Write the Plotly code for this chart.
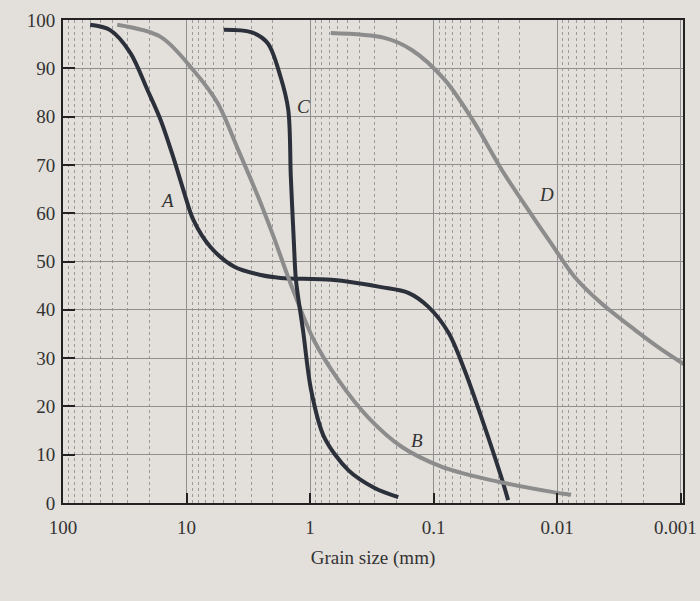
import math
import plotly.graph_objects as go

# Curve A
a_x = [60.3, 41.5, 28.5, 20.7, 16.2, 12.8, 10.6, 8.8, 6.4, 4.1, 2.5, 1.73, 0.67, 0.265, 0.16, 0.11, 0.0754, 0.056, 0.041, 0.0283, 0.0249]
a_y = [99.0, 97.9, 93.2, 85.5, 79.3, 71.6, 64.8, 58.6, 53.0, 48.9, 47.2, 46.6, 46.2, 44.7, 43.5, 40.6, 35.2, 27.5, 17.8, 5.4, 0.6]
# Curve B
b_x = [36.4, 16.2, 8.8, 5.6, 3.8, 2.63, 1.97, 1.44, 0.93, 0.59, 0.34, 0.18, 0.0855, 0.041, 0.011, 0.0077]
b_y = [99.0, 96.5, 89.6, 82.8, 73.0, 63.4, 55.1, 45.5, 33.7, 25.5, 17.8, 11.6, 7.5, 5.2, 2.3, 1.7]
# Curve C
c_x = [5.0, 3.0, 2.2, 1.73, 1.5, 1.43, 1.35, 1.3, 1.14, 0.98, 0.77, 0.49, 0.3, 0.193]
c_y = [98.0, 97.5, 95.2, 88.2, 81.4, 67.5, 53.8, 46.2, 35.8, 23.4, 13.7, 6.8, 3.1, 1.2]
# Curve D
d_x = [0.68, 0.25, 0.15, 0.081, 0.0466, 0.0279, 0.0171, 0.0112, 0.0072, 0.0044, 0.00233, 0.00141, 0.00092]
d_y = [97.3, 96.3, 93.8, 87.6, 78.7, 68.9, 60.7, 53.8, 46.8, 41.4, 35.8, 31.7, 28.6]

labels = ["A", "B", "C", "D"]
label_x = [14.3, 0.137, 1.13, 0.0122]
label_y = [62.7, 13.0, 82.0, 63.8]

x_tickvals = [100, 10, 1, 0.1, 0.01, 0.001]
x_ticktext = ["100", "10", "1", "0.1", "0.01", ""]
last_tick_label = "0.001"
y_tickvals = list(range(0, 101, 10))

minor_vals = [m * 10 ** e for e in range(-3, 2) for m in range(2, 10)]

DARK = "#2c303b"
GRAY = "#8c8c8c"
BG = "#e3e0db"
SERIF = "Liberation Serif, Times New Roman, serif"

fig = go.Figure()
for xs, ys, col in [(a_x, a_y, DARK), (b_x, b_y, GRAY), (c_x, c_y, DARK), (d_x, d_y, GRAY)]:
    fig.add_trace(go.Scatter(x=xs, y=ys, mode="lines",
                             line=dict(color=col, width=4, shape="spline", smoothing=0.9),
                             showlegend=False, hoverinfo="skip"))

for t, x, y in zip(labels, label_x, label_y):
    fig.add_annotation(x=math.log10(x), y=y, xref="x", yref="y", text=f"<i>{t}</i>",
                       showarrow=False, font=dict(family=SERIF, size=19, color="#333"))

# last x tick label, kept inside the page's right edge
fig.add_annotation(x=1 + 16 / 620, y=-24 / 483, xref="paper", yref="paper",
                   xanchor="right", yanchor="middle", text=last_tick_label,
                   showarrow=False, font=dict(family=SERIF, size=19, color="#333"))

fig.update_layout(
    width=700, height=601,
    margin=dict(l=63, r=17, t=20, b=98),
    paper_bgcolor=BG, plot_bgcolor=BG,
    font=dict(family=SERIF, size=19, color="#333"),
    xaxis=dict(
        type="log", range=[2, -3.02], tickvals=x_tickvals, ticktext=x_ticktext,
        automargin=False,
        showgrid=True, gridcolor="#8f8f8f", gridwidth=1.3,
        minor=dict(tickmode="array", tickvals=minor_vals, showgrid=True,
                   gridcolor="#9a9a9a", gridwidth=1, griddash="dot", ticks=""),
        ticks="inside", ticklen=10, tickwidth=2, tickcolor="#222",
        ticklabelstandoff=6, ticklabeloverflow="allow",
        showline=True, linecolor="#222", linewidth=2, mirror=True,
        title=dict(text="Grain size (mm)", font=dict(family=SERIF, size=19), standoff=14),
        zeroline=False,
    ),
    yaxis=dict(
        range=[0, 100], tickvals=y_tickvals,
        automargin=False,
        showgrid=True, gridcolor="#8f8f8f", gridwidth=1.3,
        ticks="inside", ticklen=12, tickwidth=2, tickcolor="#222",
        ticklabelstandoff=2,
        showline=True, linecolor="#222", linewidth=2, mirror=True,
        zeroline=False,
    ),
)

fig.write_html("out.html")
